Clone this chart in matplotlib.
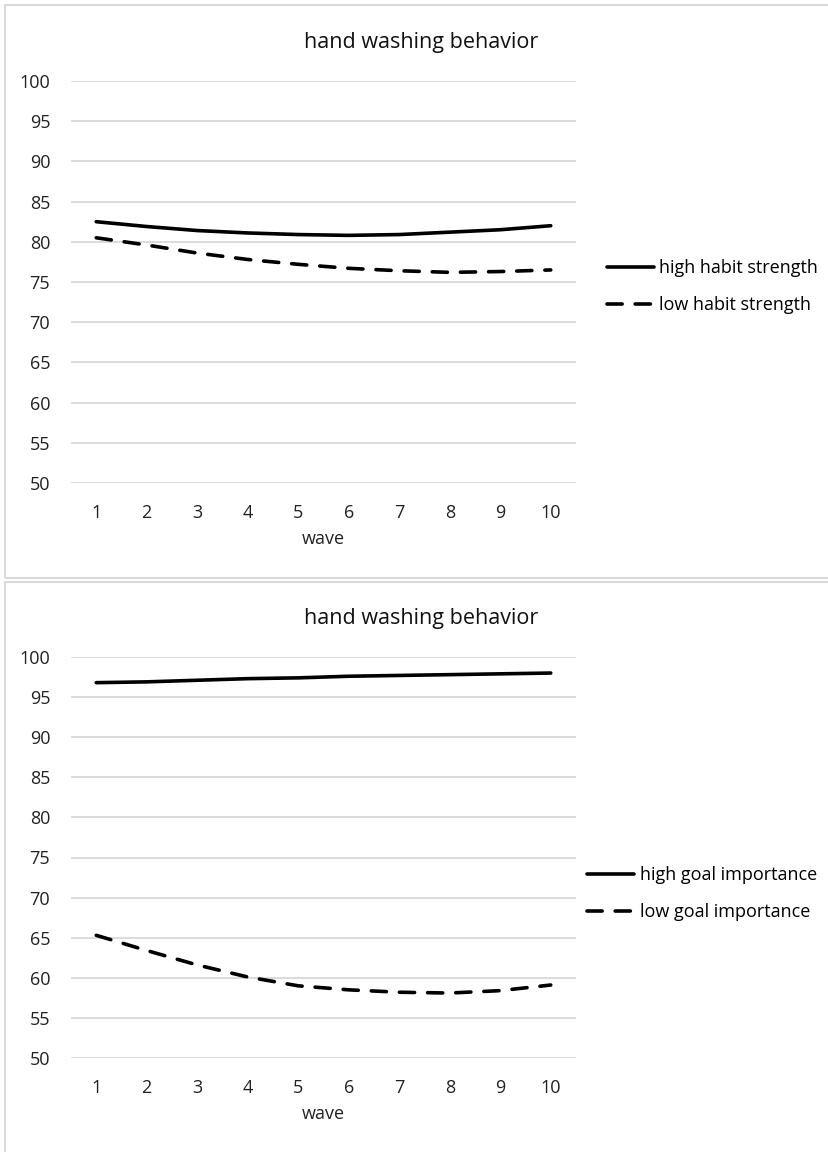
import matplotlib
matplotlib.use('Agg')
import matplotlib.pyplot as plt
from matplotlib.patches import Rectangle

plt.rcParams['font.family'] = ['Open Sans', 'DejaVu Sans']

waves = list(range(1, 11))
yticks = list(range(50, 101, 5))

high_habit = [82.5, 81.9, 81.4, 81.1, 80.9, 80.8, 80.9, 81.2, 81.5, 82.0]
low_habit = [80.5, 79.6, 78.6, 77.8, 77.2, 76.7, 76.4, 76.2, 76.3, 76.5]

high_goal = [96.8, 96.9, 97.1, 97.3, 97.4, 97.6, 97.7, 97.8, 97.9, 98.0]
low_goal = [65.3, 63.4, 61.6, 60.1, 59.0, 58.5, 58.2, 58.1, 58.4, 59.1]

W, H = 829, 1152
fig = plt.figure(figsize=(W / 100, H / 100), dpi=100)

# light grey chart frames
fig.add_artist(Rectangle((5 / W, 1 - 578 / H), 1.0, 573 / H, transform=fig.transFigure,
                         fill=False, edgecolor='#d9d9d9', lw=1.5))
fig.add_artist(Rectangle((5 / W, -0.01), 1.0, (1152 - 582) / H + 0.01, transform=fig.transFigure,
                         fill=False, edgecolor='#d9d9d9', lw=1.5))


def panel(rect, high, low, labels, leg_x, leg_y):
    ax = fig.add_axes(rect)
    ax.plot(waves, high, color='black', lw=2.6, solid_capstyle='round', label=labels[0])
    ax.plot(waves, low, color='black', lw=2.6, dashes=(4.2, 3.6), dash_capstyle='round',
            label=labels[1])
    ax.set_xlim(0.5, 10.5)
    ax.set_ylim(50, 100)
    ax.set_yticks(yticks)
    ax.set_xticks(waves)
    ax.grid(axis='y', color='#d9d9d9', lw=1.3)
    ax.set_axisbelow(True)
    for s in ax.spines.values():
        s.set_visible(False)
    ax.tick_params(length=0, labelsize=13, colors='#222222')
    ax.tick_params(axis='x', pad=15)
    ax.tick_params(axis='y', pad=15)
    ax.set_xlabel('wave', fontsize=13, color='#222222', labelpad=6)
    ax.set_title('hand washing behavior', fontsize=15.5, color='#111111', pad=24, x=0.693)
    ax.legend(loc='center left', bbox_to_anchor=(leg_x, leg_y), frameon=False,
              fontsize=13, handlelength=2.6, handletextpad=0.3, labelspacing=1.05,
              borderaxespad=0)
    return ax


panel([71 / W, 1 - 483 / H, 505 / W, 402 / H], high_habit, low_habit,
      ['high habit strength', 'low habit strength'], 1.047, 0.489)
panel([71 / W, 1 - 1058 / H, 505 / W, 401 / H], high_goal, low_goal,
      ['high goal importance', 'low goal importance'], 1.008, 0.41)

fig.savefig('out.png', dpi=100)
